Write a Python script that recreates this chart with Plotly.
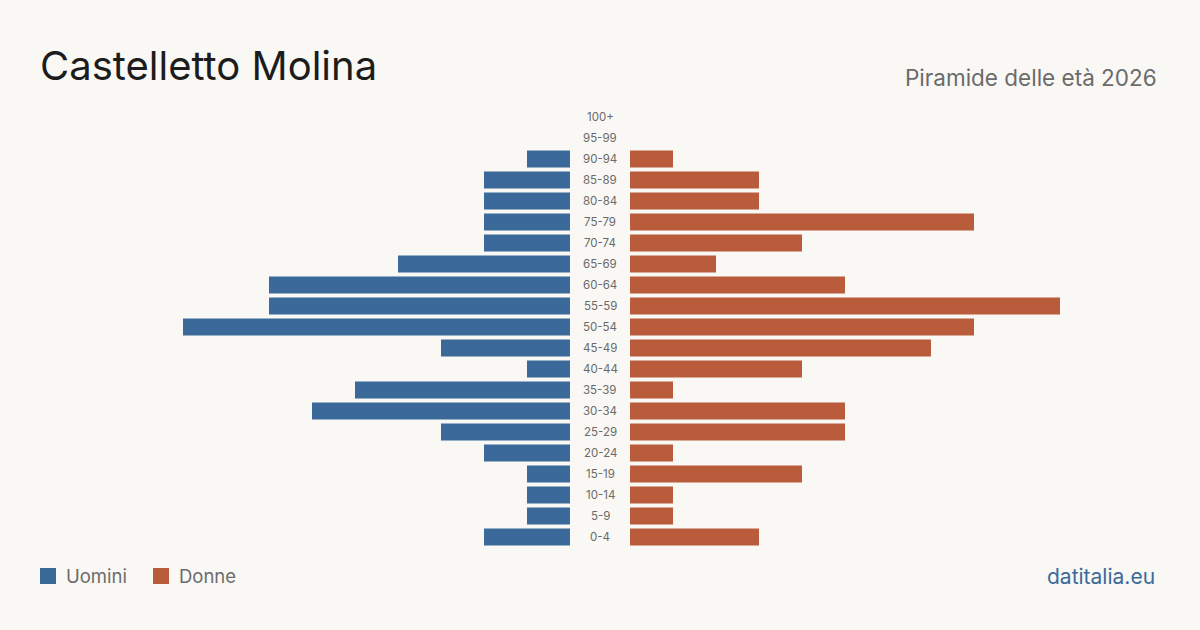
import plotly.graph_objects as go

age_groups = ["0-4", "5-9", "10-14", "15-19", "20-24", "25-29", "30-34", "35-39",
              "40-44", "45-49", "50-54", "55-59", "60-64", "65-69", "70-74",
              "75-79", "80-84", "85-89", "90-94", "95-99", "100+"]
males = [2, 1, 1, 1, 2, 3, 6, 5, 1, 3, 9, 7, 7, 4, 2, 2, 2, 2, 1, 0, 0]
females = [3, 1, 1, 4, 1, 5, 5, 1, 4, 7, 8, 10, 5, 2, 4, 8, 3, 3, 1, 0, 0]

title = "Castelletto Molina"
subtitle = "Piramide delle età 2026"
source = "datitalia.eu"
legend_names = ["Uomini", "Donne"]

BLUE = "#3b6a9a"
ORANGE = "#b85c3c"
BG = "#f9f8f4"
W, H = 1200, 630
FONT = "Inter"

fig = go.Figure()
fig.add_trace(go.Bar(y=age_groups, x=males, orientation="h", marker_color=BLUE,
                     marker_line_width=0,
                     xaxis="x", yaxis="y", name=legend_names[0], showlegend=False,
                     hoverinfo="x+y"))
fig.add_trace(go.Bar(y=age_groups, x=females, orientation="h", marker_color=ORANGE,
                     marker_line_width=0,
                     xaxis="x2", yaxis="y", name=legend_names[1], showlegend=False,
                     hoverinfo="x+y"))

xmax = 10
annotations = []
for ag in age_groups:
    annotations.append(dict(x=600 / W, y=ag, xref="paper", yref="y", text=ag,
                            showarrow=False, xanchor="center", yanchor="middle",
                            font=dict(family=FONT, size=11.5, color="#6a6a6a")))

annotations += [
    dict(x=38 / W, y=1 - 66 / H, xref="paper", yref="paper", text=title, showarrow=False,
         xanchor="left", yanchor="middle", font=dict(family=FONT, size=40, color="#1c1c1c")),
    dict(x=1159 / W, y=1 - 77 / H, xref="paper", yref="paper", text=subtitle, showarrow=False,
         xanchor="right", yanchor="middle", font=dict(family=FONT, size=22.5, color="#6b6b6b")),
    dict(x=64 / W, y=1 - 576 / H, xref="paper", yref="paper", text=legend_names[0], showarrow=False,
         xanchor="left", yanchor="middle", font=dict(family=FONT, size=18.5, color="#6b6b6b")),
    dict(x=177 / W, y=1 - 576 / H, xref="paper", yref="paper", text=legend_names[1], showarrow=False,
         xanchor="left", yanchor="middle", font=dict(family=FONT, size=18.5, color="#6b6b6b")),
    dict(x=1157 / W, y=1 - 576 / H, xref="paper", yref="paper", text=source, showarrow=False,
         xanchor="right", yanchor="middle", font=dict(family=FONT, size=21, color=BLUE)),
]

shapes = [
    dict(type="rect", xref="paper", yref="paper", x0=40 / W, x1=56 / W,
         y0=1 - 584 / H, y1=1 - 568 / H, fillcolor=BLUE, line_width=0),
    dict(type="rect", xref="paper", yref="paper", x0=153 / W, x1=169 / W,
         y0=1 - 584 / H, y1=1 - 568 / H, fillcolor=ORANGE, line_width=0),
]

top, bottom = 106.5, 547.5
fig.update_layout(
    width=W, height=H,
    margin=dict(l=0, r=0, t=0, b=0),
    paper_bgcolor=BG, plot_bgcolor=BG,
    bargap=0.19,
    xaxis=dict(domain=[(570 - 43 * xmax) / W, 570 / W], range=[xmax, 0], visible=False, fixedrange=True),
    xaxis2=dict(domain=[630 / W, (630 + 43 * xmax) / W], range=[0, xmax], visible=False, fixedrange=True),
    yaxis=dict(domain=[1 - bottom / H, 1 - top / H], range=[-0.5, len(age_groups) - 0.5],
               visible=False, categoryorder="array", categoryarray=age_groups, fixedrange=True),
    annotations=annotations,
    shapes=shapes,
    showlegend=False,
)

fig.write_html("out.html")
